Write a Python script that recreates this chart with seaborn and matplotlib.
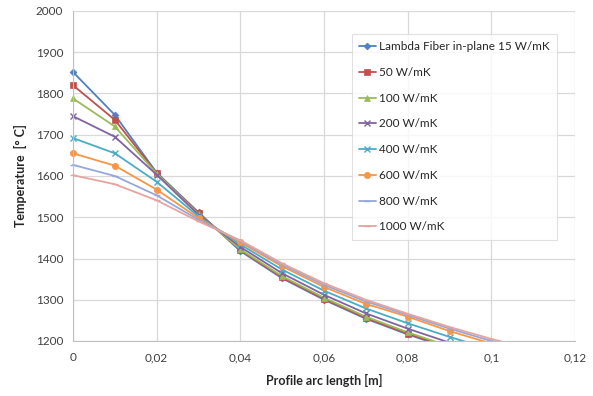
import numpy as np
import pandas as pd
import matplotlib
matplotlib.use("Agg")
import matplotlib.pyplot as plt
import seaborn as sns
from matplotlib.ticker import FuncFormatter, MultipleLocator
from matplotlib.patches import Rectangle

x_vals = [0.0, 0.01, 0.02, 0.03, 0.04, 0.05, 0.06, 0.07, 0.08, 0.09, 0.10, 0.11]
series_names = ["Lambda Fiber in-plane 15 W/mK", "50 W/mK", "100 W/mK", "200 W/mK",
                "400 W/mK", "600 W/mK", "800 W/mK", "1000 W/mK"]
t15 = [1852, 1748, 1608, 1512, 1418, 1352, 1300, 1254, 1216, 1182, 1150, 1120]
t50 = [1820, 1736, 1607, 1510, 1420, 1354, 1302, 1256, 1218, 1184, 1152, 1122]
t100 = [1788, 1720, 1606, 1508, 1422, 1357, 1305, 1259, 1221, 1187, 1155, 1125]
t200 = [1745, 1695, 1603, 1506, 1428, 1364, 1312, 1267, 1230, 1196, 1165, 1135]
t400 = [1692, 1655, 1586, 1502, 1434, 1373, 1322, 1279, 1243, 1210, 1179, 1150]
t600 = [1655, 1625, 1567, 1498, 1439, 1381, 1331, 1290, 1259, 1224, 1194, 1166]
t800 = [1627, 1600, 1553, 1494, 1442, 1385, 1336, 1296, 1263, 1230, 1200, 1172]
t1000 = [1602, 1580, 1541, 1490, 1444, 1388, 1340, 1300, 1266, 1234, 1205, 1178]
all_series = [t15, t50, t100, t200, t400, t600, t800, t1000]

colors = ["#4F81BD", "#C0504D", "#9BBB59", "#8064A2", "#4BACC6", "#F79646", "#95A8DA", "#E6A3A0"]
markers = ["D", "s", "^", "x", "x", "o", "_", "_"]
msizes = [3.5, 4.5, 4.5, 5, 5, 4.5, 5, 5]

rows = []
for name, vals in zip(series_names, all_series):
    for xv, yv in zip(x_vals, vals):
        rows.append({"x": xv, "T": yv, "series": name})
df = pd.DataFrame(rows)

sns.set_style("white")
plt.rcParams["font.family"] = ["Lato", "DejaVu Sans"]

fig = plt.figure(figsize=(5.93, 3.96), dpi=100)
ax = fig.add_axes([73/593, 1-341/396, 502/593, 330/396])

for name, col, mk, ms in zip(series_names, colors, markers, msizes):
    sub = df[df["series"] == name]
    sns.lineplot(data=sub, x="x", y="T", ax=ax, color=col, marker=mk, markersize=ms,
                 markeredgecolor=col, markeredgewidth=1.0 if mk in ("x", "_") else 0.5,
                 linewidth=1.3, label=name)

# clip lines to the plot area, widened a little to the left so markers at x=0 show fully
clip_rect = Rectangle((-0.02, 0), 1.04, 1.0, transform=ax.transAxes, facecolor="none", edgecolor="none")
ax.add_patch(clip_rect)
for ln in ax.lines:
    ln.set_clip_path(clip_rect)

ax.set_xlim(0, 0.12)
ax.set_ylim(1200, 2000)
ax.xaxis.set_major_locator(MultipleLocator(0.02))
ax.yaxis.set_major_locator(MultipleLocator(100))

def xfmt(v, pos):
    if abs(v) < 1e-9:
        return "0"
    s = ("%.2f" % v).rstrip("0")
    return s.replace(".", ",")
ax.xaxis.set_major_formatter(FuncFormatter(xfmt))

ax.grid(True, color="#D9D9D9", linewidth=0.9)
ax.set_axisbelow(True)
for sp in ["top", "right"]:
    ax.spines[sp].set_visible(False)
ax.spines["left"].set_color("#BFBFBF")
ax.spines["bottom"].set_color("#BFBFBF")
ax.tick_params(axis="both", labelsize=8.5, colors="#404040", length=4, color="#BFBFBF", pad=3)
ax.tick_params(axis="x", length=0, pad=8)
ax.tick_params(axis="y", direction="out")

ax.set_xlabel("Profile arc length [m]", fontsize=9, fontweight="bold", color="#262626", labelpad=8)
ax.set_ylabel("Temperature  [° C]", fontsize=9, fontweight="bold", color="#262626", labelpad=6)

handles, labels = ax.get_legend_handles_labels()
leg = ax.legend(handles, labels, loc="upper left", bbox_to_anchor=(0.556, 0.93),
                fontsize=8.5, frameon=True, fancybox=False, edgecolor="#D9D9D9",
                labelspacing=1.25, handlelength=1.4, handletextpad=0.3, borderpad=0.6,
                borderaxespad=0)
leg.get_frame().set_linewidth(0.8)
for t in leg.get_texts():
    t.set_color("#262626")

fig.savefig("out.png", dpi=100)
